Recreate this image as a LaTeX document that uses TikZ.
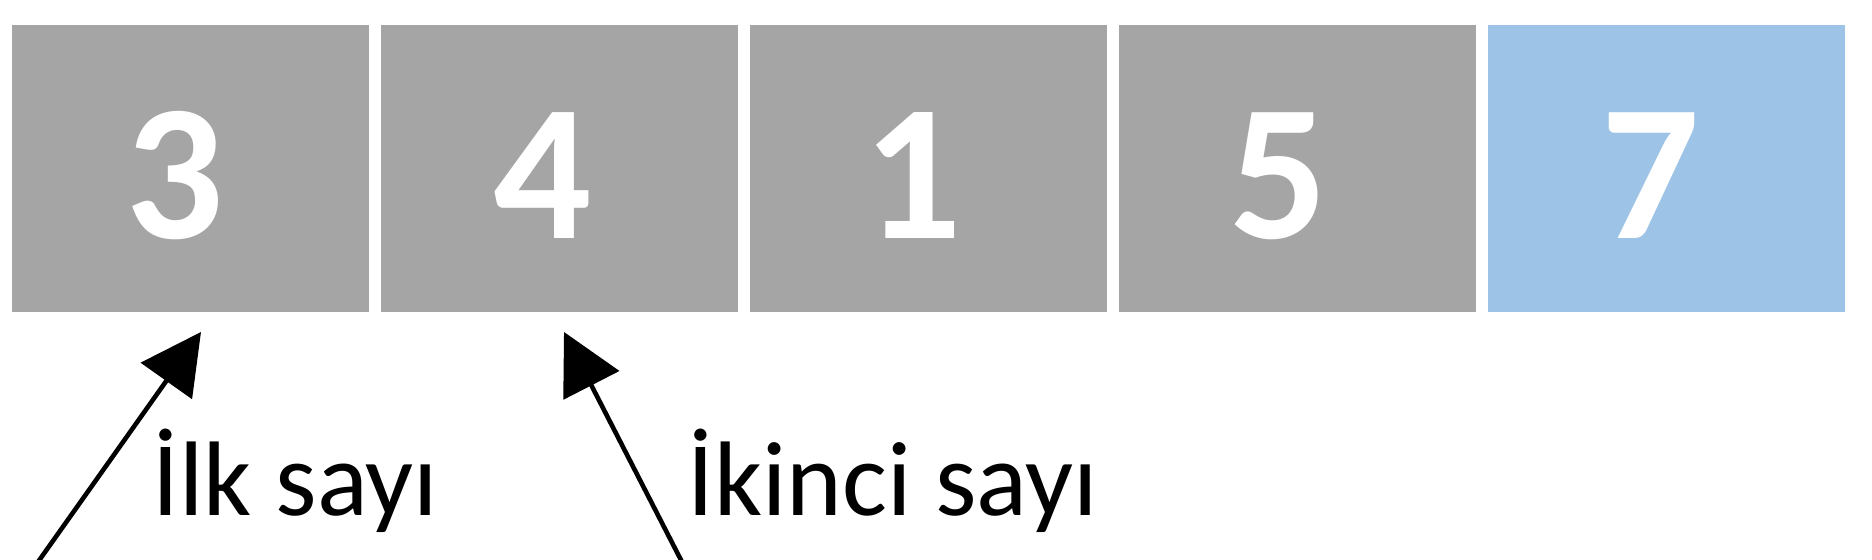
\documentclass[tikz,border=0pt]{standalone}
\usepackage{fontspec}
\setmainfont{Carlito}
\usetikzlibrary{arrows.meta}
\definecolor{cellgray}{HTML}{A5A5A5}
\definecolor{cellblue}{HTML}{9DC3E6}
\tikzset{
  cell/.style={draw=none, minimum width=178.5pt, minimum height=143.5pt, inner sep=0pt, outer sep=0pt},
  digit/.style={text=white, font=\fontsize{97}{100}\selectfont\bfseries, inner sep=0pt, anchor=base},
  lbl/.style={text=black, font=\fontsize{53}{60}\selectfont, inner sep=0pt, anchor=base west},
  arr/.style={line width=2.3pt, -{Triangle[length=30pt,width=31pt]}}
}
\begin{document}
\begin{tikzpicture}[x=0.5pt,y=-0.5pt]
\useasboundingbox (0,0) rectangle (1872,560);
\fill[white] (0,0) rectangle (1872,560);
% cells
\node[cell, fill=cellgray] (b1) at (190.5,168.75) {};
\node[cell, fill=cellgray] (b2) at (559.5,168.75) {};
\node[cell, fill=cellgray] (b3) at (928.5,168.75) {};
\node[cell, fill=cellgray] (b4) at (1297,168.75) {};
\node[cell, fill=cellblue] (b5) at (1666.5,168.75) {};
% digits
\node[digit] (d1) at (175,239) {3};
\node[digit] (d2) at (543,239) {4};
\node[digit] (d3) at (913,239) {1};
\node[digit] (d4) at (1279,239) {5};
\node[digit] (d5) at (1651,239) {7};
% labels
\node[lbl] (l1) at (152,516) {İlk sayı};
\node[lbl] (l2) at (687,516) {İkinci sayı};
% arrows
\coordinate (t1) at (38,562);
\coordinate (h1) at (201,332);
\coordinate (t2) at (682,562);
\coordinate (h2) at (564,332);
\draw[arr] (t1) -- (h1);
\draw[arr] (t2) -- (h2);
\end{tikzpicture}
\end{document}
